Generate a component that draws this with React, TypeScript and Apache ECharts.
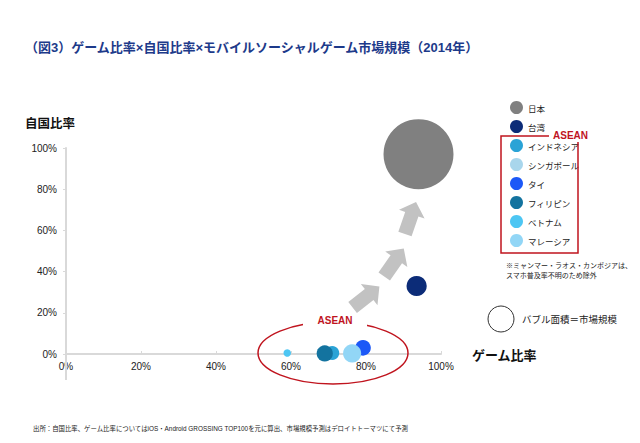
import React, { useEffect, useRef } from 'react'
import * as echarts from 'echarts'

const countries = ['日本', '台湾', 'インドネシア', 'シンガポール', 'タイ', 'フィリピン', 'ベトナム', 'マレーシア']
// ゲーム比率 (%)
const gameRatio = [94, 93.5, 71, 77.6, 79.2, 69, 59, 76.3]
// 自国比率 (%)
const domesticRatio = [97, 33, 0.5, 1.5, 3, 0.3, 0.5, 0.3]
// 市場規模 (relative, bubble area)
const marketSize = [6000, 500, 240, 200, 300, 320, 70, 400]
const countryColors = ['#808080', '#0c2c78', '#2aa3d6', '#a9d6ec', '#1c58f7', '#13739f', '#4dc6f3', '#92d6f6']

const FONT = "'Liberation Sans', 'Noto Sans CJK JP', sans-serif"
const JP = "'Noto Sans CJK JP', sans-serif"

function arrow(cx: number, cy: number, elevDeg: number) {
  return {
    type: 'polygon',
    x: cx,
    y: cy,
    rotation: -((90 - elevDeg) * Math.PI) / 180,
    shape: {
      points: [[-7, 17], [7, 17], [7, -4], [13.5, -4], [0, -17], [-13.5, -4], [-7, -4]]
    },
    style: { fill: '#c2c2c2' },
    z: 50
  }
}

export default function App() {
  const chartRef = useRef<HTMLDivElement>(null)

  useEffect(() => {
    document.body.style.margin = '0'
    if (!chartRef.current) return
    const chart = echarts.init(chartRef.current, undefined, { renderer: 'svg' })

    const option: any = {
      animation: false,
      backgroundColor: '#fff',
      title: {
        text: '（図3）ゲーム比率×自国比率×モバイルソーシャルゲーム市場規模（2014年）',
        left: 20,
        top: 36,
        textStyle: { color: '#1d3a8a', fontSize: 13, fontWeight: 'bold', fontFamily: FONT }
      },
      legend: {
        orient: 'vertical',
        left: 510,
        top: 101,
        padding: 0,
        icon: 'circle',
        itemWidth: 13,
        itemHeight: 13,
        itemGap: 6,
        data: countries,
        textStyle: { color: '#222', fontSize: 8.5, fontFamily: JP }
      },
      grid: { left: 66, right: 199, top: 148, bottom: 89, outerBoundsMode: 'none' },
      xAxis: {
        type: 'value',
        min: 0,
        max: 100,
        interval: 20,
        splitLine: { show: false },
        axisLine: { lineStyle: { color: '#d9d9d9', width: 2 } },
        axisTick: { show: true, length: 3, inside: true, lineStyle: { color: '#d9d9d9' } },
        axisLabel: { formatter: '{value}%', color: '#222', fontSize: 10, fontFamily: FONT, margin: 7 }
      },
      yAxis: {
        type: 'value',
        min: 0,
        max: 100,
        interval: 20,
        splitLine: { show: false },
        axisLine: { show: true, lineStyle: { color: '#d9d9d9', width: 2 } },
        axisTick: { show: true, length: 3, lineStyle: { color: '#d9d9d9' } },
        axisLabel: { formatter: '{value}%', color: '#222', fontSize: 10, fontFamily: FONT, margin: 9 }
      },
      series: countries.map((name, i) => ({
        name,
        type: 'scatter',
        data: [[gameRatio[i], domesticRatio[i], marketSize[i]]],
        symbolSize: (d: number[]) => 70 * Math.sqrt(d[2] / 6000),
        itemStyle: { color: countryColors[i], opacity: 1 },
        z: 10
      })),
      graphic: [
        // y-axis line continues below the x-axis
        {
          type: 'line',
          shape: { x1: 66, y1: 354, x2: 66, y2: 380 },
          style: { stroke: '#d9d9d9', lineWidth: 2 },
          z: 1
        },
        { type: 'text', left: 25, top: 116, style: { text: '自国比率', fill: '#111', font: `bold 12.5px ${JP}` } },
        { type: 'text', x: 472, y: 348, style: { text: 'ゲーム比率', fill: '#111', font: `bold 13px ${JP}` } },
        arrow(366, 297, 38),
        arrow(394, 262.5, 55),
        arrow(410.5, 218, 71),
        {
          type: 'ellipse',
          shape: { cx: 333, cy: 353, rx: 75, ry: 31 },
          style: { fill: 'none', stroke: '#c0141e', lineWidth: 1.5 },
          z: 60
        },
        { type: 'rect', shape: { x: 303, y: 313, width: 64, height: 15 }, style: { fill: '#fff' }, z: 61 },
        {
          type: 'text',
          x: 335,
          y: 320,
          style: { text: 'ASEAN', fill: '#c0141e', font: `bold 10px ${FONT}`, textAlign: 'center', textVerticalAlign: 'middle' },
          z: 62
        },
        {
          type: 'rect',
          shape: { x: 501, y: 136, width: 77, height: 117 },
          style: { fill: 'none', stroke: '#c0141e', lineWidth: 1.5 },
          z: 60
        },
        { type: 'rect', shape: { x: 549, y: 128, width: 42, height: 14 }, style: { fill: '#fff' }, z: 61 },
        {
          type: 'text',
          x: 553,
          y: 135,
          style: { text: 'ASEAN', fill: '#c0141e', font: `bold 10px ${FONT}`, textVerticalAlign: 'middle' },
          z: 62
        },
        {
          type: 'text',
          x: 506,
          y: 260,
          style: { text: '※ミャンマー・ラオス・カンボジアは、\nスマホ普及率不明のため除外', fill: '#222', font: `7px ${JP}`, lineHeight: 10 }
        },
        {
          type: 'circle',
          shape: { cx: 501, cy: 319, r: 13 },
          style: { fill: '#fff', stroke: '#333', lineWidth: 1 }
        },
        {
          type: 'text',
          x: 522,
          y: 319,
          style: { text: 'バブル面積＝市場規模', fill: '#222', font: `9.5px ${JP}`, textVerticalAlign: 'middle' }
        },
        {
          type: 'text',
          x: 33,
          y: 428,
          style: {
            text: '出所：自国比率、ゲーム比率についてはiOS・Android GROSSING TOP100を元に算出、市場規模予測はデロイトトーマツにて予測',
            fill: '#222',
            font: `6.4px ${FONT}`,
            textVerticalAlign: 'middle'
          }
        }
      ]
    }

    chart.setOption(option)
    return () => chart.dispose()
  }, [])

  return <div ref={chartRef} style={{ width: '640px', height: '443px' }} />
}
